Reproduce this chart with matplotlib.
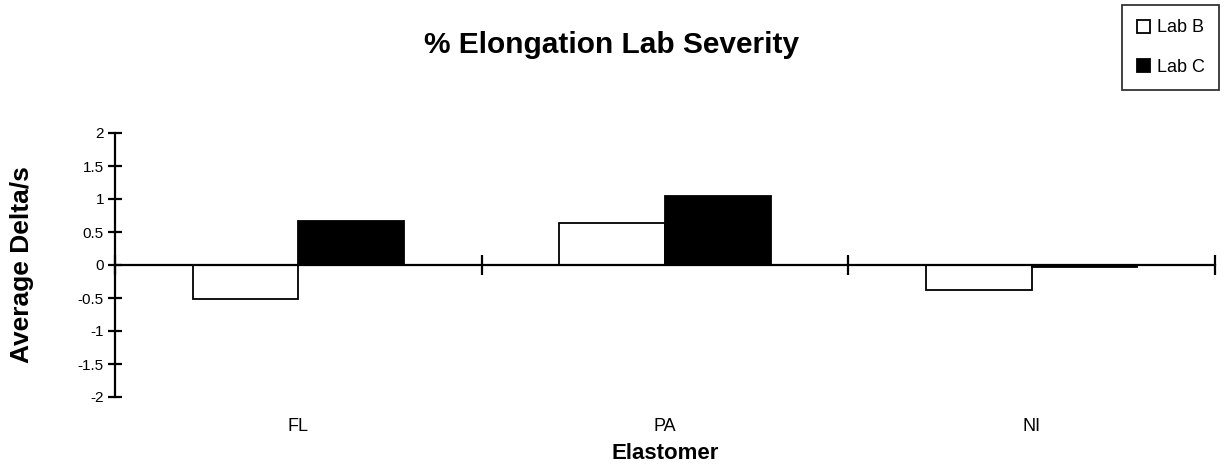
import numpy as np
import matplotlib.pyplot as plt

plt.rcParams['font.family'] = ['Liberation Sans', 'DejaVu Sans']

# data
elastomers = ['FL', 'PA', 'NI']
lab_b = [-0.52, 0.63, -0.38]
lab_c = [0.67, 1.05, -0.03]

fig = plt.figure(figsize=(12.25, 4.72), dpi=100)
ax = fig.add_axes([115 / 1225, 1 - 397 / 472, 1100 / 1225, 264 / 472])

x = np.arange(len(elastomers))
w = 0.288
ax.bar(x - w / 2, lab_b, w, color='white', edgecolor='black', linewidth=1.3, label='Lab B')
ax.bar(x + w / 2, lab_c, w, color='black', edgecolor='black', linewidth=1.3, label='Lab C')

ax.set_xlim(-0.5, len(elastomers) - 0.5)
ax.set_ylim(-2, 2)
ax.set_yticks(np.arange(-2, 2.01, 0.5))
ax.set_yticklabels(['-2', '-1.5', '-1', '-0.5', '0', '0.5', '1', '1.5', '2'])
ax.set_xticks(np.arange(len(elastomers) + 1) - 0.5)
ax.set_xticklabels([])

for s in ['top', 'right']:
    ax.spines[s].set_visible(False)
ax.spines['bottom'].set_position(('data', 0))
ax.spines['left'].set_linewidth(1.6)
ax.spines['bottom'].set_linewidth(1.6)
ax.tick_params(axis='both', direction='inout', length=10, width=1.6, labelsize=11, pad=3)
ax.tick_params(axis='x', length=14)

for i, name in enumerate(elastomers):
    ax.text(i, -0.11, name, transform=ax.get_xaxis_transform(), ha='center', va='center', fontsize=13)
ax.text(0.5, -0.215, 'Elastomer', transform=ax.transAxes, ha='center', va='center',
        fontsize=16, fontweight='bold')
fig.text(22 / 1225, 1 - 265 / 472, 'Average Delta/s', rotation=90, ha='center', va='center',
         fontsize=19, fontweight='bold')

fig.text(0.499, 1 - 45 / 472, '% Elongation Lab Severity', ha='center', va='center',
         fontsize=21.5, fontweight='bold')

leg = fig.legend(loc='upper right', bbox_to_anchor=(1219 / 1225, 1 - 5 / 472), fontsize=13,
                 frameon=True, fancybox=False, edgecolor='black', handlelength=0.75,
                 handleheight=0.75, handletextpad=0.35, labelspacing=1.25, borderpad=0.8,
                 borderaxespad=0)
leg.get_frame().set_linewidth(1.3)

plt.savefig('out.png', dpi=100)
